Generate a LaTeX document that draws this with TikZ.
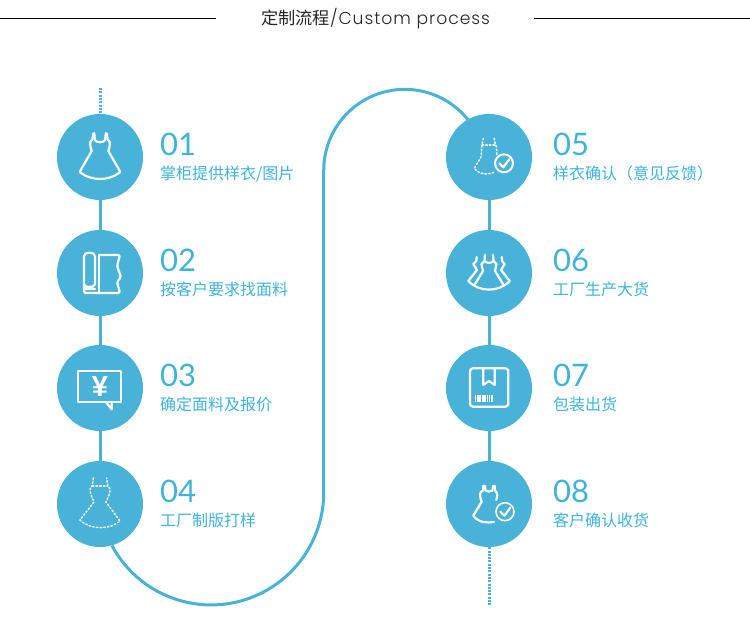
\documentclass[tikz,border=0pt]{standalone}
\usepackage{fontspec}
\usetikzlibrary{backgrounds}
\newfontfamily\cjk{Noto Sans CJK SC}
\newfontfamily\numf{Lato}
\newfontfamily\popf{Poppins}[UprightFont=* Light,LetterSpace=5.5]
\newfontfamily\yenf{Liberation Sans}
\definecolor{tealc}{RGB}{72,178,216}
\definecolor{textc}{RGB}{62,180,220}
\tikzset{
  x=1pt,y=-1pt,
  stepdot/.style={circle,fill=tealc,draw=none,minimum size=86pt,inner sep=0pt},
  link/.style={draw=tealc,line width=3pt},
  dotlink/.style={draw=tealc,line width=3pt,dash pattern=on 2pt off 1.3pt},
  num/.style={anchor=base west,inner sep=0pt,text=textc,font=\numf\fontsize{31}{31}\selectfont},
  lab/.style={anchor=base west,inner sep=0pt,text=textc,font=\cjk\fontsize{16}{16}\selectfont},
  ico/.style={draw=white,line width=2.2pt,line join=round,line cap=round},
  icodot/.style={draw=white,line width=1.5pt,dash pattern=on 1.5pt off 2.2pt,line cap=round},
  rule/.style={draw=black,line width=1pt},
}
\begin{document}
\begin{tikzpicture}
\useasboundingbox (0,0) rectangle (750,640);
% title
\node[anchor=base west,inner sep=0pt,text=black!85] (title) at (261,24)
  {{\cjk\fontsize{17.2}{17}\selectfont 定制流程}{\popf\fontsize{17.2}{17}\selectfont /Custom process}};
\coordinate (la) at (0,18); \coordinate (lb) at (216,18);
\coordinate (ra) at (534,18); \coordinate (rb) at (750,18);
\draw[rule] (la) -- (lb); \draw[rule] (ra) -- (rb);
% circles
\node[stepdot] (c1) at (100,157) {};
\node[stepdot] (c2) at (100,273) {};
\node[stepdot] (c3) at (100,388) {};
\node[stepdot] (c4) at (100,504) {};
\node[stepdot] (c5) at (489,157) {};
\node[stepdot] (c6) at (489,273) {};
\node[stepdot] (c7) at (489,388) {};
\node[stepdot] (c8) at (489,504) {};
\coordinate (topend) at (100,88);
\coordinate (botend) at (489,606);
\begin{pgfonlayer}{background}
\draw[link] (c1) -- (c2);
\draw[link] (c2) -- (c3);
\draw[link] (c3) -- (c4);
\draw[link] (c5) -- (c6);
\draw[link] (c6) -- (c7);
\draw[link] (c7) -- (c8);
\draw[dotlink] (topend) -- (c1.north);
\draw[dotlink] (c8.south) -- (botend);
\draw[link] (c4.-74) arc[start angle=151.8,end angle=0,radius=112.6] -- ++(0,-322)
   arc[start angle=180,end angle=324.8,radius=81] -- (c5);
\end{pgfonlayer}
% text
\foreach \n/\x/\y/\t in {01/160/155/{掌柜提供样衣/图片},02/160/271/按客户要求找面料,03/160/386/确定面料及报价,04/160/502/工厂制版打样,05/553/155/样衣确认（意见反馈）,06/553/271/工厂生产大货,07/553/386/包装出货,08/553/502/客户确认收货}{
  \node[num] (n\n) at (\x,\y) {\n};
  \node[lab] (t\n) at (\x,\y+24) {\t};
}
% icon 1: dress
\begin{scope}[shift={(c1.center)}]
\draw[ico] (-6.7,-23.7) -- (-7.7,-17.5) .. controls (-11,-15.5) and (-10,-11) .. (-8.3,-6) -- (-19.3,13)
  .. controls (-20.5,15) and (-20,15.5) .. (-19,16) .. controls (-8,24) and (8,24) .. (19,16)
  .. controls (20,15.5) and (20.5,15) .. (19.3,13) -- (8.3,-6) .. controls (10,-11) and (11,-15.5) .. (7.7,-17.5) -- (6.7,-23.7);
\draw[ico] (-5.7,-23.7) -- (-5.2,-17) .. controls (-3,-14) and (3,-14) .. (5.2,-17) -- (5.7,-23.7);
\end{scope}
% icon 2: fabric roll
\begin{scope}[shift={(c2.center)}]
\draw[ico] (-5,16) -- (-16,16) -- (-16,-17) .. controls (-16,-21.5) and (-5,-21.5) .. (-5,-17) -- (-5,11) .. controls (-5,15) and (-16,15) .. (-16,11);
\draw[ico,rounded corners=1.5pt] (-1,-18) -- (20,-18) -- (17,-7) -- (21,4) -- (17,9) -- (20,20) -- (-16,20) -- (-16,16);
\draw[ico] (-1,-18) -- (-1,20);
\end{scope}
% icon 3: price bubble
\begin{scope}[shift={(c3.center)}]
\draw[ico] (-21.7,-17) rectangle (21,13.7);
\draw[ico] (5.7,13.7) -- (11.7,21.3) -- (11.7,13.7);
\node[inner sep=0pt,text=white,font=\yenf\bfseries\fontsize{29}{29}\selectfont] (yen) at (0,-1.5) {¥};
\end{scope}
% icon 4: dotted dress
\begin{scope}[shift={(c4.center)}]
\draw[icodot] (-6.7,-26) -- (-7.7,-18) .. controls (-11,-16) and (-11,-13) .. (-6,-2) -- (-20,16)
  .. controls (-10,26) and (10,26) .. (20,17) -- (6,-2) .. controls (11,-13) and (11,-16) .. (7.7,-18) -- (6.7,-26);
\draw[icodot] (-7.7,-18) -- (7.7,-18);
\end{scope}
% icon 5: dotted dress + check
\begin{scope}[shift={(c5.center)}]
\draw[icodot] (-5.7,-18.7) -- (-7,-12) .. controls (-8,-8) and (-7,-6) .. (-8,0) -- (-14.7,11.3)
  .. controls (-10,18) and (0,18) .. (6,14.7);
\draw[icodot] (5.3,-18.7) -- (6,-14) .. controls (8,-10) and (8,-5) .. (7.7,-2);
\draw[icodot] (-7,-12) -- (6,-12);
\draw[draw=white,line width=2pt,fill=tealc] (15,6.3) circle[radius=9];
\draw[ico] (10.3,6.3) -- (14.3,10.3) -- (20.3,2.3);
\end{scope}
% icon 6: three dresses
\begin{scope}[shift={(c6.center)}]
\draw[ico] (-12.3,-16) -- (-12.7,-12) -- (-15.7,-9) -- (-12,-3) -- (-20.7,8);
\draw[ico] (12.7,-16) -- (13,-12) -- (15.7,-9) -- (12,-3) -- (20.7,8);
\draw[ico] (-20.7,8) .. controls (-10,19.5) and (10,19.5) .. (20.7,8);
\draw[ico] (-14,11) -- (-6,-2) -- (-7.5,-9) -- (-4.5,-12) -- (-4,-18);
\draw[ico] (14,11) -- (6,-2) -- (7.5,-9) -- (4.5,-12) -- (4,-18);
\draw[ico] (-4.5,-12) .. controls (-2,-9.5) and (2,-9.5) .. (4.5,-12);
\end{scope}
% icon 7: package
\begin{scope}[shift={(c7.center)}]
\draw[ico,rounded corners=3pt] (-19,-19.7) rectangle (19.3,18.7);
\draw[ico] (-5.7,-19.7) -- (-5.7,-3) -- (0,-7) -- (5.7,-3) -- (5.7,-19.7);
\foreach \bx/\bw in {-14/.8,-12.4/.8,-10.8/1.3,-8.8/.8,-7.2/.8,-5.6/1.3,-3.6/.8,-2/.8,-.4/1.3,1.8/.8,3.4/.8}
  \fill[white] (\bx,7) rectangle (\bx+\bw,13.7);
\end{scope}
% icon 8: dress + check
\begin{scope}[shift={(c8.center)}]
\draw[ico] (-5.7,-18.3) -- (-6,-13.5) .. controls (-10,-12) and (-9.5,-8) .. (-7.3,-2.3) -- (-15.7,11.7)
  .. controls (-10,19) and (-2,19) .. (5,18);
\draw[ico] (-4,-18.3) -- (-3.5,-13.5) .. controls (-1,-12) and (1,-12) .. (3.5,-13.5) -- (4,-18.3);
\draw[ico] (5.7,-18.3) -- (6,-13.5) .. controls (9,-11) and (8.5,-8) .. (7.3,-4);
\draw[draw=white,line width=1.6pt,fill=tealc] (16,7.7) circle[radius=9];
\draw[ico] (11.3,7.7) -- (15.3,11.7) -- (21.3,3.7);
\end{scope}
\end{tikzpicture}
\end{document}
